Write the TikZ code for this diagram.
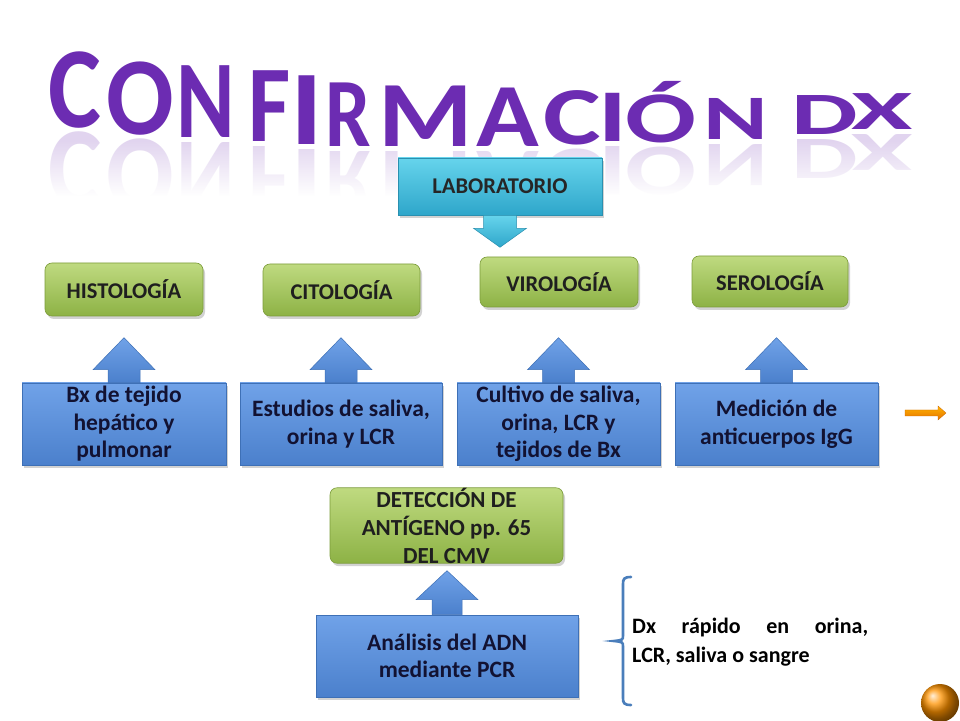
\documentclass[tikz,border=0pt]{standalone}
\usepackage{fontspec}
\setmainfont{Carlito}
\usetikzlibrary{calc,shadows,fadings}
\definecolor{titlepurple}{RGB}{108,44,178}
\definecolor{labtop}{HTML}{66D4EC}
\definecolor{labbot}{HTML}{2EA6CA}
\definecolor{labdraw}{HTML}{2A90B0}
\definecolor{greentop}{HTML}{BFDA80}
\definecolor{greenbot}{HTML}{8DB245}
\definecolor{greendraw}{HTML}{7C9C3A}
\definecolor{bluetop}{HTML}{70A2E8}
\definecolor{bluebot}{HTML}{4B80CC}
\definecolor{bluedraw}{HTML}{3E70B6}
\definecolor{bracecol}{HTML}{4A7EBB}
\definecolor{navytext}{HTML}{121232}
\tikzfading[name=fadedown, top color=transparent!100, bottom color=transparent!0]
\newcommand\myblockarrow[6]{%
  \path[#1] ($(#2)+(-#5,0)$) -- ($(#2)+(-#5,#3-#4)$) -- ($(#2)+(-#6,#3-#4)$)
    -- ($(#2)+(0,#3)$) -- ($(#2)+(#6,#3-#4)$) -- ($(#2)+(#5,#3-#4)$)
    -- ($(#2)+(#5,0)$) -- cycle;}
\begin{document}
\begin{tikzpicture}[x=1pt,y=1pt,
  titlef/.style={font=\fontsize{100}{100}\selectfont\bfseries, text=titlepurple, inner sep=0pt, outer sep=0pt, anchor=base},
  myshadow/.style={drop shadow={opacity=0.35, shadow xshift=2pt, shadow yshift=-3pt}},
  labbox/.style={draw=labdraw, line width=0.6pt, top color=labtop, bottom color=labbot,
    minimum width=204pt, minimum height=57pt, inner sep=0pt,
    font=\fontsize{22.5}{27}\selectfont\bfseries, text=black!85, myshadow},
  greenbox/.style={draw=greendraw, line width=0.6pt, rounded corners=7pt, top color=greentop,
    bottom color=greenbot, inner sep=0pt, align=center,
    font=\fontsize{22.5}{28}\selectfont\bfseries, text=black!88, myshadow},
  bluebox/.style={draw=bluedraw, line width=0.6pt, top color=bluetop, bottom color=bluebot,
    inner sep=0pt, align=center, minimum height=82pt,
    font=\fontsize{23.5}{27.5}\selectfont\bfseries, text=navytext, myshadow},
  bluearrow/.style={top color=bluetop, bottom color=bluebot, draw=bluedraw, line width=0.5pt},
  labarrow/.style={top color=labtop, bottom color=labbot, draw=labdraw, line width=0.5pt},
  sidetext/.style={text width=236pt, align=justify, inner sep=0pt,
    font=\fontsize{22}{29}\selectfont\bfseries, text=black}
]
\useasboundingbox (0,0) rectangle (960,720);
\fill[white] (0,0) rectangle (960,720);

% title reflection
\foreach \ch/\cx/\by/\w/\h/\iw [count=\k] in {C/75/128/46/73/0.46, O/140/135/60/70/0.60, N/206/138/48/70/0.54,
  F/270/142/34/69/0.37, I/307/145/16/67/0.13, R/348/147/38/62/0.47, M/426/147/80/59/0.74,
  A/508/147/60/57/0.58, C/572/145/50/52/0.46, I/613/142/14/47/0.13, O/661/143/63/46/0.60,
  N/736/140/53/40/0.54, D/825/135/56/38/0.53, X/882/130/59/35/0.53}{
  \pgfmathsetmacro\xs{\w/(\iw*100)}
  \pgfmathsetmacro\ys{\h/63.2}
  \node[titlef, opacity=0.2] (r\k) at (\cx, 720-\by-5) {\scalebox{\xs}[-\ys]{\ch}};
}
\fill[white, path fading=fadedown] (0,720-196) rectangle (960,720-140);
\fill[white] (0,0) rectangle (960,720-196);

% title
\foreach \ch/\cx/\by/\w/\h/\iw [count=\k] in {C/75/128/46/73/0.46, O/140/135/60/70/0.60, N/206/138/48/70/0.54,
  F/270/142/34/69/0.37, I/307/145/16/67/0.13, R/348/147/38/62/0.47, M/426/147/80/59/0.74,
  A/508/147/60/57/0.58, C/572/145/50/52/0.46, I/613/142/14/47/0.13, Ó/661/143/63/46/0.60,
  N/736/140/53/40/0.54, D/825/135/56/38/0.53, X/882/130/59/35/0.53}{
  \pgfmathsetmacro\xs{\w/(\iw*100)}
  \pgfmathsetmacro\ys{\h/63.2}
  \node[titlef] (t\k) at (\cx, 720-\by) {\scalebox{\xs}[\ys]{\ch}};
}

% laboratorio
\node[labbox] (lab) at (500,533.5) {LABORATORIO};
\myblockarrow{labarrow}{lab.south}{-32}{-19}{16.5}{26.5}

% green boxes
\node[greenbox, minimum width=158pt, minimum height=53pt] (histo) at (124,430.5) {HISTOLOGÍA};
\node[greenbox, minimum width=157pt, minimum height=52pt] (cito) at (341.5,430) {CITOLOGÍA};
\node[greenbox, minimum width=158pt, minimum height=50pt] (viro) at (559,438) {VIROLOGÍA};
\node[greenbox, minimum width=156pt, minimum height=51pt] (sero) at (770,438.5) {SEROLOGÍA};

% blue boxes
\node[bluebox, minimum width=204pt] (b1) at (124,296) {Bx de tejido\\hepático y\\pulmonar};
\node[bluebox, minimum width=202pt] (b2) at (341,296) {Estudios de saliva,\\orina y LCR};
\node[bluebox, minimum width=203pt] (b3) at (558.5,296) {Cultivo de saliva,\\orina, LCR y\\tejidos de Bx};
\node[bluebox, minimum width=203pt] (b4) at (776.5,296) {Medición de\\anticuerpos IgG};

\foreach \b in {b1,b2,b3,b4}{
  \myblockarrow{bluearrow}{\b.north}{45}{32}{16}{31}
}

% deteccion and ADN
\node[greenbox, minimum width=233pt, minimum height=75pt, font=\fontsize{23}{28}\selectfont\bfseries]
  (det) at (446.5,194.5) {DETECCIÓN DE\\ANTÍGENO pp. 65\\DEL CMV};
\node[bluebox, minimum width=262pt] (adn) at (447,64) {Análisis del ADN\\mediante PCR};
\myblockarrow{bluearrow}{adn.north}{44}{29}{15}{31}

% brace and side text
\coordinate (bt) at (631,143);
\coordinate (bb) at (631,15);
\draw[bracecol, line width=2.6pt, line cap=round]
  (bt) .. controls (624,143) and (623,141) .. (623,136) -- (623,85)
  .. controls (623,80) .. (614,79) .. controls (623,78) .. (623,73) -- (623,22)
  .. controls (623,17) and (624,15) .. (bb);
\node[sidetext, anchor=west] (dx) at (632,77.5) {Dx rápido en orina,\linebreak LCR, saliva o sangre};

% orange arrow
\shade[top color=orange!60!yellow, bottom color=orange!90!black, draw=orange!80!black, line width=0.3pt]
  (905,304) -- (938,304) -- (938,300) -- (946,307) -- (938,314) -- (938,310) -- (905,310) -- cycle;

% orange ball
\shade[ball color=orange!85!yellow] (940,17) circle (19);
\end{tikzpicture}
\end{document}
